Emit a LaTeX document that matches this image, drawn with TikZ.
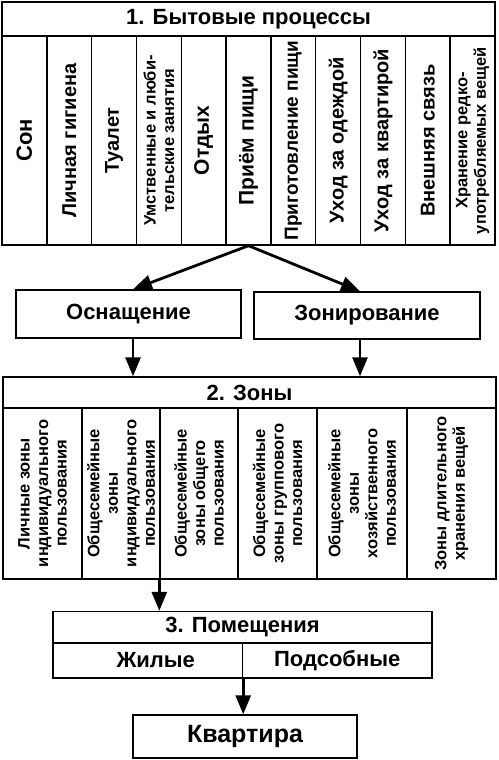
\documentclass[tikz,border=0pt]{standalone}
\usepackage{fontspec}
\setmainfont{Liberation Sans}
\usetikzlibrary{arrows.meta}
\newcommand\fsz[2]{\fontsize{#1}{#2}\selectfont}

\begin{document}
\begin{tikzpicture}[x=1pt,y=-1pt,
  box/.style={draw,line width=1.4pt,inner sep=0pt,font=\bfseries},
  col/.style={box,rotate=90,minimum width=209,minimum height=44.82,align=center},
  zcol/.style={box,rotate=90,minimum width=171,align=center,font=\bfseries\fsz{16.5}{18.5}},
  arr/.style={line width=2.8pt,-{Triangle[length=19pt,width=15pt]}}]
\useasboundingbox (0,0) rectangle (498,760);
% 1. processes
\node[box,minimum width=493,minimum height=34,font=\bfseries\fsz{22}{26}] (t1) at (248.5,19) {1. Бытовые процессы};
\node[col,font=\bfseries\fsz{22}{26}] (c1) at (24.41,140.5) {Сон};
\node[col,font=\bfseries\fsz{20}{24}] (c2) at (69.23,140.5) {Личная гигиена};
\node[col,font=\bfseries\fsz{20}{24}] (c3) at (114.05,140.5) {Туалет};
\node[col,font=\bfseries\fsz{16.5}{18.5}] (c4) at (158.86,140.5) {Умственные и люби-\\тельские занятия};
\node[col,font=\bfseries\fsz{21}{25}] (c5) at (203.68,140.5) {Отдых};
\node[col,font=\bfseries\fsz{21}{25}] (c6) at (248.5,140.5) {Приём пищи};
\node[col,font=\bfseries\fsz{19}{23}] (c7) at (293.32,140.5) {Приготовление пищи};
\node[col,font=\bfseries\fsz{20}{24}] (c8) at (338.14,140.5) {Уход за одеждой};
\node[col,font=\bfseries\fsz{20}{24}] (c9) at (382.95,140.5) {Уход за квартирой};
\node[col,font=\bfseries\fsz{20}{24}] (c10) at (427.77,140.5) {Внешняя связь};
\node[col,font=\bfseries\fsz{16.5}{18.5}] (c11) at (472.59,140.5) {Хранение редко-\\употребляемых вещей};
% middle boxes
\node[box,minimum width=225,minimum height=48,font=\bfseries\fsz{22}{26}] (osn) at (128.5,314) {Оснащение};
\node[box,minimum width=226,minimum height=47,font=\bfseries\fsz{22}{26}] (zon) at (367,315.5) {Зонирование};
% 2. zones
\node[box,minimum width=493,minimum height=31,font=\bfseries\fsz{22}{26}] (t2) at (249.5,392.5) {2. Зоны};
\node[zcol,minimum height=79] (z1) at (42.5,493.5) {Личные зоны\\индивидуального\\пользования};
\node[zcol,minimum height=78] (z2) at (121,493.5) {Общесемейные\\зоны\\индивидуального\\пользования};
\node[zcol,minimum height=78] (z3) at (199,493.5) {Общесемейные\\зоны общего\\пользования};
\node[zcol,minimum height=79] (z4) at (277.5,493.5) {Общесемейные\\зоны группового\\пользования};
\node[zcol,minimum height=90] (z5) at (362,493.5) {Общесемейные\\зоны\\хозяйственного\\пользования};
\node[zcol,minimum height=89] (z6) at (451.5,493.5) {Зоны длительного\\хранения вещей};
% 3. rooms
\node[box,minimum width=379,minimum height=31,font=\bfseries\fsz{22}{26}] (t3) at (242.5,627) {3. Помещения};
\node[box,minimum width=189.5,minimum height=35,font=\bfseries\fsz{22}{26}] (zh) at (147.75,660.5) {\hspace*{16pt}Жилые};
\node[box,minimum width=189.5,minimum height=35,font=\bfseries\fsz{22}{26}] (pd) at (337.25,660.5) {Подсобные};
\node[box,minimum width=224,minimum height=43,font=\bfseries\fsz{25}{30}] (kv) at (245,736.5) {Квартира};
% arrows
\draw[arr] (c6.west) -- ([xshift=4.5pt]osn.north);
\draw[arr] (c6.west) -- ([xshift=-7pt]zon.north);
\draw[arr] ([xshift=4.5pt]osn.south) -- ([xshift=4.5pt]osn.south |- t2.north);
\draw[arr] ([xshift=-7pt]zon.south) -- ([xshift=-7pt]zon.south |- t2.north);
\draw[arr] (z3.north west) -- (z3.north west |- t3.north);
\draw[arr] (zh.south east) -- (zh.south east |- kv.north);
\end{tikzpicture}
\end{document}
